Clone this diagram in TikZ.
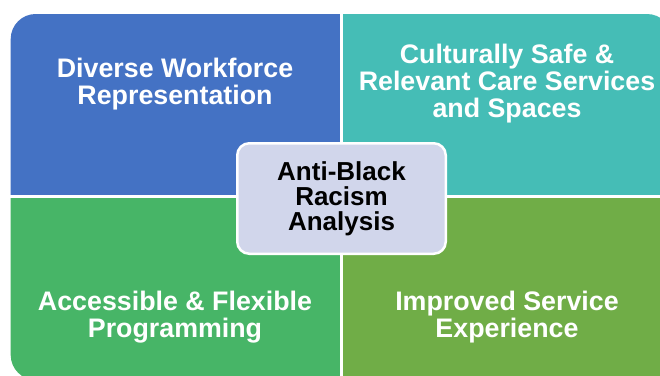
\documentclass[tikz,border=0pt]{standalone}
\usepackage{fontspec}
\setmainfont{Liberation Sans}
\usepackage{tikz}
\usetikzlibrary{positioning}

\definecolor{dwblue}{HTML}{4472C4}
\definecolor{csteal}{HTML}{45BDB6}
\definecolor{afgreen}{HTML}{47B567}
\definecolor{islime}{HTML}{70AD47}
\definecolor{hubfill}{HTML}{D1D6EB}

\tikzset{
  quad/.style={inner sep=0pt, minimum width=340pt, minimum height=200pt},
  quadtext/.style={font=\bfseries\fontsize{26.8}{27}\selectfont, text=white, align=center, inner sep=0pt},
  hub/.style={draw=white, line width=2.5pt, fill=hubfill, rounded corners=12pt,
    minimum width=208.5pt, minimum height=110.5pt, inner sep=0pt,
    font=\bfseries\fontsize{26}{25}\selectfont, align=center}
}

\begin{document}
\begin{tikzpicture}[x=1pt,y=-1pt]
  \useasboundingbox (0,0) rectangle (660,375);
  \fill[white] (0,0) rectangle (660,375);
  \clip (0,0) rectangle (660,375);

  % four quadrants, outer corners rounded
  \begin{scope}
    \clip[rounded corners=25pt] (10.7,14) rectangle (672,380);
    \node[quad, fill=dwblue, anchor=south east] (A) at (340,195) {};
    \node[quad, fill=csteal, anchor=south west] (B) at (343,195) {};
    \node[quad, fill=afgreen, anchor=north east] (C) at (340,198) {};
    \node[quad, fill=islime, anchor=north west] (D) at (343,198) {};
  \end{scope}

  \node[quadtext] (DW) at (175,84.5) {Diverse Workforce\\Representation};
  \node[quadtext] (CS) at (507,83.4) {Culturally Safe \&\\Relevant Care Services\\and Spaces};
  \node[quadtext] (AF) at (175,317) {Accessible \& Flexible\\Programming};
  \node[quadtext] (IS) at (507,317) {Improved Service\\Experience};

  % centre
  \node[hub] (ABR) at (341.5,198.5) {Anti-Black\\Racism\\Analysis};
\end{tikzpicture}
\end{document}
